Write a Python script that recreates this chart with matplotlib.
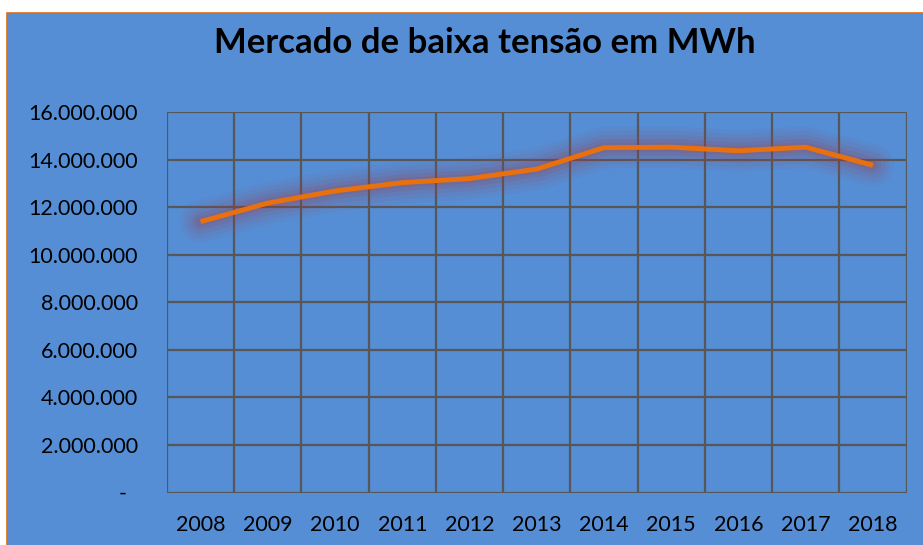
import matplotlib
matplotlib.use("Agg")
import matplotlib.pyplot as plt
from matplotlib.patches import Rectangle
from matplotlib.ticker import FuncFormatter, MultipleLocator

years = ["2008", "2009", "2010", "2011", "2012", "2013", "2014", "2015", "2016", "2017", "2018"]
values = [11390000, 12170000, 12680000, 13030000, 13200000, 13600000,
          14500000, 14520000, 14370000, 14520000, 13760000]
title = "Mercado de baixa tensão em MWh"

plt.rcParams['font.family'] = ['Lato', 'DejaVu Sans']

W, H = 923, 545
fig = plt.figure(figsize=(W / 100, H / 100), dpi=100)
fig.patch.set_facecolor("white")

bg = "#558ED5"
# chart area background with orange border
fig.patches.append(Rectangle((7 / W, -0.01), 1.02, (H - 13) / H + 0.01,
                             transform=fig.transFigure, facecolor=bg,
                             edgecolor="#E46C0A", linewidth=1.2, zorder=-5))

left, right, top, bottom = 167, 906.5, 112, 492.5
ax = fig.add_axes([left / W, 1 - bottom / H, (right - left) / W, (bottom - top) / H])
ax.set_zorder(5)
ax.set_facecolor(bg)

x = list(range(len(years)))
# glow
for lw, a in [(30, 0.06), (24, 0.07), (18, 0.09), (12, 0.12), (7, 0.16)]:
    ax.plot(x, values, color="#9B3F4A", lw=lw, alpha=a, solid_capstyle="round",
            solid_joinstyle="round", zorder=2)
ax.plot(x, values, color="#E8700E", lw=3.5, zorder=3, solid_joinstyle="miter",
        solid_capstyle="butt")

ax.set_xlim(-0.5, len(years) - 0.5)
ax.set_ylim(0, 16000000)
ax.yaxis.set_major_locator(MultipleLocator(2000000))

def fmt(v, pos):
    if v == 0:
        return "-  "
    return f"{v:,.0f}".replace(",", ".")

ax.yaxis.set_major_formatter(FuncFormatter(fmt))
ax.set_xticks(x)
ax.set_xticklabels(years)

grid_c = "#575757"
ax.grid(False)
for i in range(len(years) + 1):
    ax.axvline(i - 0.5, color=grid_c, lw=1.6, zorder=1)
for v in range(0, 16000001, 2000000):
    ax.axhline(v, color=grid_c, lw=1.6, zorder=1)

for s in ax.spines.values():
    s.set_visible(False)

ax.tick_params(axis="both", which="both", length=0)
ax.tick_params(axis="y", pad=21, labelsize=15.5, labelcolor="black")
ax.tick_params(axis="x", pad=16.5, labelsize=15.5, labelcolor="black")

fig.text(485 / W, 1 - 43 / H, title, ha="center", va="center",
         fontsize=25, fontweight="bold", color="black")

fig.savefig("out.png", dpi=100, facecolor=fig.get_facecolor())
